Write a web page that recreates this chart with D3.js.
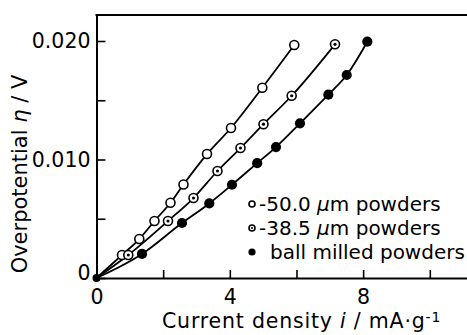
<!DOCTYPE html>
<html><head><meta charset="utf-8">
<script src="https://cdn.jsdelivr.net/npm/d3@7"></script>
<style>
html,body{margin:0;padding:0;background:#fff;}
svg{display:block;font-family:"DejaVu Sans",sans-serif;}
</style></head>
<body>
<svg id="c" width="467" height="335"></svg>
<script>
// Data (current density in mA/g, overpotential in V)
const openX   = [0, 0.765, 1.284, 1.74, 2.22, 2.61, 3.315, 4.035, 4.975, 5.934];
const openY   = [0, 0.00194, 0.00329, 0.00481, 0.00635, 0.00789, 0.01046, 0.01266, 0.01606, 0.01966];
const dotX    = [0, 0.954, 2.145, 2.91, 3.63, 4.32, 5.01, 5.856, 7.156];
const dotY    = [0, 0.00194, 0.00481, 0.00675, 0.00903, 0.01097, 0.01298, 0.01538, 0.01972];
const fillX   = [0, 1.365, 2.565, 3.384, 4.065, 4.821, 5.385, 6.105, 6.955, 7.507, 8.125];
const fillY   = [0, 0.00203, 0.00464, 0.00629, 0.00787, 0.00969, 0.01105, 0.01305, 0.01547, 0.01713, 0.01994];
const xTicks = [0, 2, 4, 6, 8, 10];
const xTickLabels = ["0", "", "4", "", "8", ""];
const yTicks = [0, 0.005, 0.010, 0.015, 0.020];
const yTickLabels = ["0", "", "0.010", "", "0.020"];
const legendLabels = ["-50.0 ", "-38.5 ", "ball milled powders"];

const svg = d3.select("#c");
const L = 96.5, R = 470, T = 15, B = 278;
const x = d3.scaleLinear().domain([0, (R - L) / 33.33]).range([L, R]);
const y = d3.scaleLinear().domain([0, (B - T) / 11850]).range([B, T]);

// frame: top border
svg.append("line").attr("x1", L - 1).attr("x2", R).attr("y1", T).attr("y2", T)
  .attr("stroke", "#000").attr("stroke-width", 2);

const xAxis = d3.axisBottom(x).tickValues(xTicks).tickSizeInner(-8).tickSizeOuter(0)
  .tickFormat((d, i) => xTickLabels[i]).tickPadding(11);
const gx = svg.append("g").attr("transform", `translate(0,${B})`).call(xAxis);
const yAxis = d3.axisLeft(y).tickValues(yTicks).tickSizeInner(-9).tickSizeOuter(0)
  .tickFormat((d, i) => yTickLabels[i]).tickPadding(6);
const gy = svg.append("g").attr("transform", `translate(${L},0)`).call(yAxis);
[gx, gy].forEach(g => {
  g.select(".domain").attr("stroke", "#000").attr("stroke-width", 2);
  g.selectAll(".tick line").attr("stroke", "#000").attr("stroke-width", 1.6);
  g.selectAll("text").attr("font-size", 20.5).attr("fill", "#000")
    .attr("font-family", "DejaVu Sans, sans-serif");
});
gy.selectAll(".tick text").filter(d => d === 0).attr("dy", "0.05em");

// lines
const series = [
  {xs: openX, ys: openY, type: "open"},
  {xs: dotX, ys: dotY, type: "dot"},
  {xs: fillX, ys: fillY, type: "fill"}
];
const line = d3.line().x(d => x(d[0])).y(d => y(d[1])).curve(d3.curveMonotoneX);
series.forEach(s => {
  const pts = s.xs.map((v, i) => [v, s.ys[i]]);
  svg.append("path").datum(pts).attr("d", line)
    .attr("fill", "none").attr("stroke", "#000").attr("stroke-width", 1.8);
});
function marker(g, type, cx, cy, r) {
  if (type === "fill") {
    g.append("circle").attr("cx", cx).attr("cy", cy).attr("r", r + 0.6).attr("fill", "#000");
  } else {
    g.append("circle").attr("cx", cx).attr("cy", cy).attr("r", r)
      .attr("fill", "#fff").attr("stroke", "#000").attr("stroke-width", 1.6);
    if (type === "dot") {
      g.append("circle").attr("cx", cx).attr("cy", cy).attr("r", r * 0.35).attr("fill", "#000");
    }
  }
}
series.forEach(s => {
  const g = svg.append("g");
  s.xs.forEach((v, i) => {
    if (i === 0) return;
    marker(g, s.type, x(v), y(s.ys[i]), 4.5);
  });
});
// origin dot
svg.append("circle").attr("cx", x(0)).attr("cy", y(0)).attr("r", 4).attr("fill", "#000");

// legend
const lg = svg.append("g");
const legY = [204, 228, 252];
const legTypes = ["open", "dot", "fill"];
legTypes.forEach((t, i) => {
  marker(lg, t, 252, legY[i], 3);
  const tx = lg.append("text").attr("x", i === 2 ? 270 : 259).attr("y", legY[i])
    .attr("dy", "0.35em").attr("font-size", 20).attr("fill", "#000");
  if (i < 2) {
    tx.append("tspan").text(legendLabels[i]);
    tx.append("tspan").attr("font-style", "italic").text("μ");
    tx.append("tspan").text("m powders");
  } else {
    tx.text(legendLabels[i]);
  }
});

// axis titles
const xt = svg.append("text").attr("x", 162).attr("y", 328).attr("font-size", 20.5)
  .attr("letter-spacing", 0.8).attr("fill", "#000");
xt.append("tspan").text("Current density ");
xt.append("tspan").attr("font-style", "italic").text("i");
xt.append("tspan").text(" / mA·g");
xt.append("tspan").attr("dy", "-0.45em").attr("font-size", 14).text("-1");

const yt = svg.append("text").attr("transform", "translate(27,174) rotate(-90)")
  .attr("text-anchor", "middle").attr("font-size", 21).attr("fill", "#000");
yt.append("tspan").text("Overpotential ");
yt.append("tspan").attr("font-style", "italic").text("η");
yt.append("tspan").text(" / V");
</script>
</body></html>
